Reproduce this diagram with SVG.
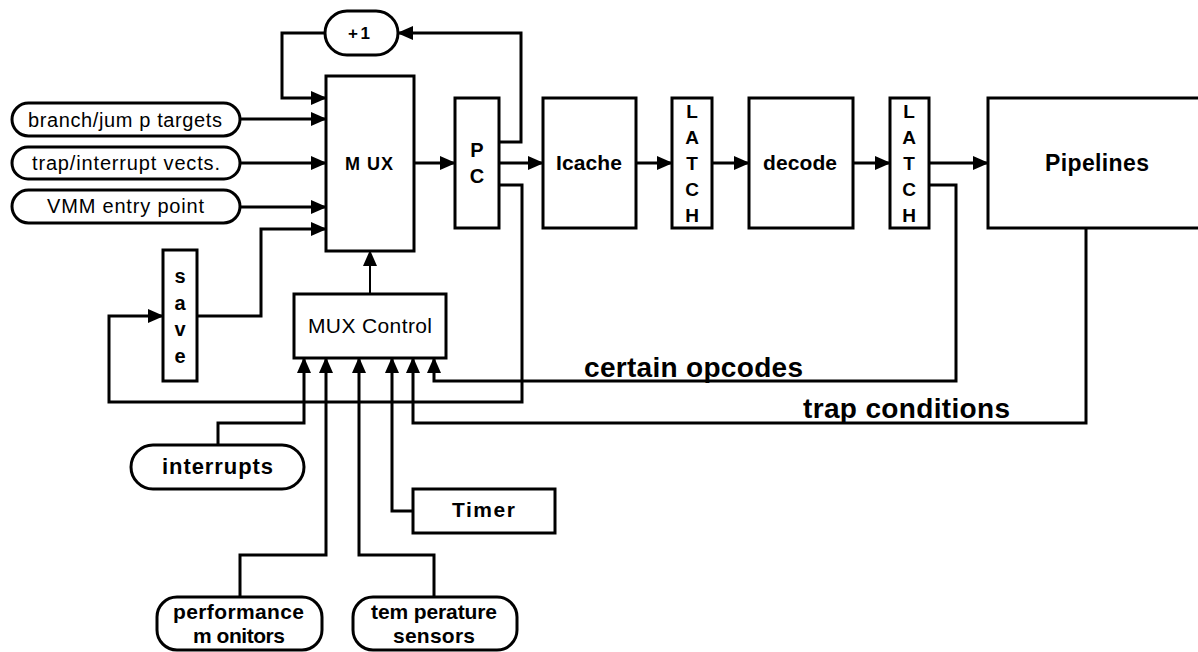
<svg xmlns="http://www.w3.org/2000/svg" width="1198" height="652" viewBox="0 0 1198 652">
<style>
.box{fill:#fff;stroke:#000;stroke-width:3}
.ln{fill:none;stroke:#000;stroke-width:3}
.thin{fill:none;stroke:#000;stroke-width:2}
.t{font-family:"Liberation Sans",Arial,sans-serif;fill:#000}
.b{font-weight:bold}
.m{text-anchor:middle}
</style>
<defs>
<marker id="ah" markerUnits="userSpaceOnUse" markerWidth="17" markerHeight="15" refX="15" refY="7" orient="auto">
<path d="M0,0 L16,7 L0,14 z" fill="#000"/>
</marker>
</defs>
<g id="connectors">
<path class="ln" d="M325,33 H282 V98 H326" marker-end="url(#ah)"/>
<path class="ln" d="M240,119 H326" marker-end="url(#ah)"/>
<path class="ln" d="M240,163 H326" marker-end="url(#ah)"/>
<path class="ln" d="M240,207 H326" marker-end="url(#ah)"/>
<path class="ln" d="M197,316 H261 V229 H326" marker-end="url(#ah)"/>
<path class="ln" d="M414,163 H455" marker-end="url(#ah)"/>
<path class="ln" d="M499,142 H521 V33 H398" marker-end="url(#ah)"/>
<path class="ln" d="M499,163 H543" marker-end="url(#ah)"/>
<path class="ln" d="M636,163 H672" marker-end="url(#ah)"/>
<path class="ln" d="M712,163 H749" marker-end="url(#ah)"/>
<path class="ln" d="M853,163 H890" marker-end="url(#ah)"/>
<path class="ln" d="M929,163 H988" marker-end="url(#ah)"/>
<path class="ln" d="M929,185 H956 V381 H434 V358" marker-end="url(#ah)"/>
<path class="ln" d="M1086,228 V423 H413 V358" marker-end="url(#ah)"/>
<path class="ln" d="M499,185 H522 V402 H109 V316 H163" marker-end="url(#ah)"/>
<path class="thin" d="M370,294 V251" marker-end="url(#ah)"/>
<path class="ln" d="M218,445 V423 H304 V358" marker-end="url(#ah)"/>
<path class="ln" d="M240,597 V555 H326 V358" marker-end="url(#ah)"/>
<path class="ln" d="M434,597 V555 H359 V358" marker-end="url(#ah)"/>
<path class="ln" d="M413,511 H392 V358" marker-end="url(#ah)"/>
<text class="t b" x="584" y="377" font-size="28" textLength="219" lengthAdjust="spacing">certain opcodes</text>
<text class="t b" x="803" y="418" font-size="28" textLength="207" lengthAdjust="spacing">trap conditions</text>
</g>
<g id="plus1">
<rect class="box" x="325" y="11" width="73" height="44" rx="22"/>
<text class="t b" x="348" y="39" font-size="17" textLength="22" lengthAdjust="spacing">+1</text>
</g>
<g id="branch">
<rect class="box" x="12" y="103" width="228" height="33" rx="16.5"/>
<text class="t" x="28" y="127" font-size="20" textLength="194" lengthAdjust="spacing">branch/jum p targets</text>
</g>
<g id="trapvec">
<rect class="box" x="12" y="147" width="228" height="32" rx="16"/>
<text class="t" x="32" y="170" font-size="20" textLength="188" lengthAdjust="spacing">trap/interrupt vects.</text>
</g>
<g id="vmm">
<rect class="box" x="12" y="190" width="228" height="33" rx="16.5"/>
<text class="t" x="47" y="213" font-size="20" textLength="157" lengthAdjust="spacing">VMM entry point</text>
</g>
<g id="mux">
<rect class="box" x="326" y="76" width="88" height="175"/>
<text class="t b" x="345" y="170" font-size="18" textLength="48" lengthAdjust="spacing">M UX</text>
</g>
<g id="pc">
<rect class="box" x="455" y="98" width="44" height="130"/>
<text class="t b m" x="477" y="157" font-size="20">P</text>
<text class="t b m" x="477" y="183" font-size="20">C</text>
</g>
<g id="icache">
<rect class="box" x="543" y="98" width="93" height="130"/>
<text class="t b" x="556" y="170" font-size="21" textLength="66" lengthAdjust="spacing">Icache</text>
</g>
<g id="latch1">
<rect class="box" x="672" y="98" width="40" height="130"/>
<text class="t b m" x="692" y="118" font-size="19">L</text>
<text class="t b m" x="692" y="144" font-size="19">A</text>
<text class="t b m" x="692" y="170" font-size="19">T</text>
<text class="t b m" x="692" y="196" font-size="19">C</text>
<text class="t b m" x="692" y="222" font-size="19">H</text>
</g>
<g id="decode">
<rect class="box" x="749" y="98" width="104" height="130"/>
<text class="t b" x="763" y="170" font-size="21" textLength="74" lengthAdjust="spacing">decode</text>
</g>
<g id="latch2">
<rect class="box" x="890" y="98" width="39" height="130"/>
<text class="t b m" x="909" y="118" font-size="19">L</text>
<text class="t b m" x="909" y="144" font-size="19">A</text>
<text class="t b m" x="909" y="170" font-size="19">T</text>
<text class="t b m" x="909" y="196" font-size="19">C</text>
<text class="t b m" x="909" y="222" font-size="19">H</text>
</g>
<g id="pipelines">
<rect class="box" x="988" y="98" width="220" height="130"/>
<text class="t b" x="1045" y="171" font-size="23" textLength="104" lengthAdjust="spacing">Pipelines</text>
</g>
<g id="save">
<rect class="box" x="163" y="250" width="34" height="131"/>
<text class="t b m" x="180" y="283" font-size="20">s</text>
<text class="t b m" x="180" y="310" font-size="20">a</text>
<text class="t b m" x="180" y="336" font-size="20">v</text>
<text class="t b m" x="180" y="363" font-size="20">e</text>
</g>
<g id="muxcontrol">
<rect class="box" x="294" y="294" width="152" height="64"/>
<text class="t" x="308" y="333" font-size="21" textLength="124" lengthAdjust="spacing">MUX Control</text>
</g>
<g id="interrupts">
<rect class="box" x="131" y="445" width="173" height="44" rx="22"/>
<text class="t b" x="162" y="474" font-size="22" textLength="111" lengthAdjust="spacing">interrupts</text>
</g>
<g id="timer">
<rect class="box" x="413" y="489" width="142" height="44"/>
<text class="t b" x="452" y="517" font-size="21" textLength="63" lengthAdjust="spacing">Timer</text>
</g>
<g id="perfmon">
<rect class="box" x="157" y="597" width="165" height="53" rx="20"/>
<text class="t b" x="173" y="619" font-size="21" textLength="131" lengthAdjust="spacing">performance</text>
<text class="t b" x="193" y="643" font-size="21" textLength="92" lengthAdjust="spacing">m onitors</text>
</g>
<g id="tempsens">
<rect class="box" x="353" y="597" width="164" height="53" rx="20"/>
<text class="t b" x="371" y="619" font-size="21" textLength="126" lengthAdjust="spacing">tem perature</text>
<text class="t b" x="393" y="643" font-size="21" textLength="82" lengthAdjust="spacing">sensors</text>
</g>
</svg>
